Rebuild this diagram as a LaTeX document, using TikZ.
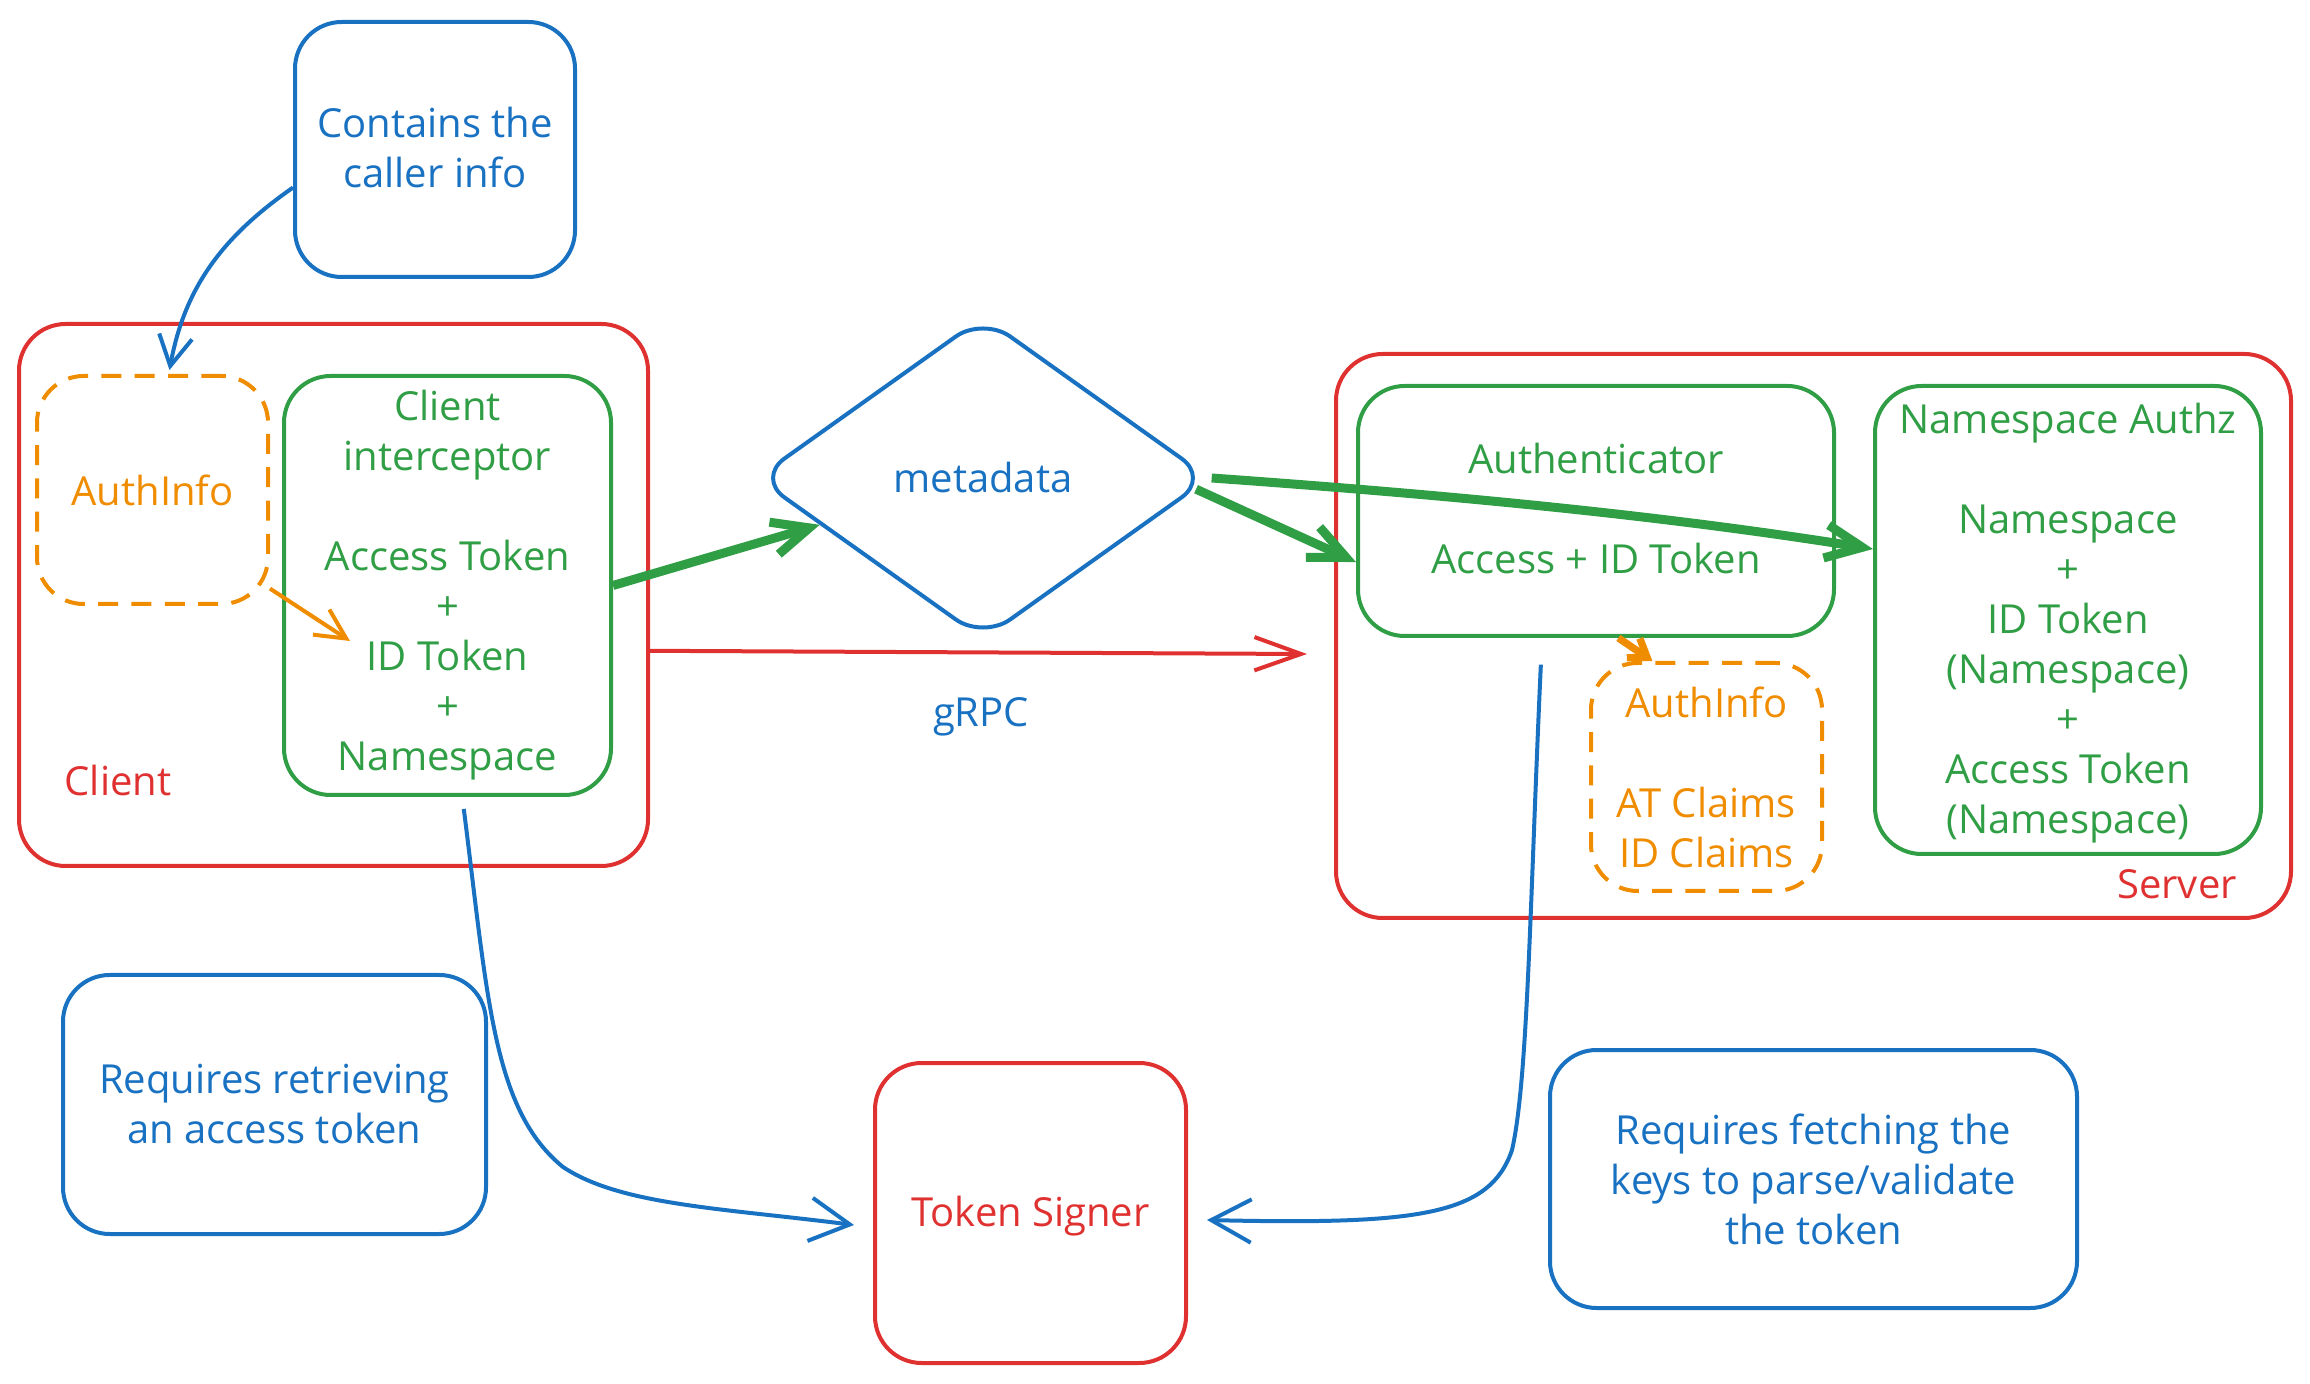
\documentclass[tikz,border=0pt]{standalone}
\usepackage{fontspec}
\setmainfont{Open Sans}
\usetikzlibrary{arrows.meta,fit,shapes.geometric,calc}
\definecolor{exred}{HTML}{E03131}
\definecolor{exgreen}{HTML}{2F9E44}
\definecolor{exblue}{HTML}{1971C2}
\definecolor{exorange}{HTML}{F08C00}
\newcommand\diagfont{\fontsize{12}{15}\selectfont}
\begin{document}
\begin{tikzpicture}[x=0.3pt,y=-0.3pt,
  box/.style={draw, rounded corners=14pt, line width=1.2pt, inner sep=0pt},
  redbox/.style={box, draw=exred},
  greenbox/.style={box, draw=exgreen},
  bluebox/.style={box, draw=exblue},
  dashbox/.style={box, draw=exorange, dash pattern=on 6pt off 4pt},
  lbl/.style={font=\diagfont, inner sep=0pt, align=center},
  thickarrow/.style={draw=exgreen, line width=2.7pt, -{Straight Barb[length=11pt,width=10pt]}},
  bluearrow/.style={draw=exblue, line width=1.2pt, -{Straight Barb[length=12pt,width=13pt]}},
]
\useasboundingbox (0,0) rectangle (2310,1384);

% boxes
\node[bluebox, fit={(295,22) (575,277)}] (note1) {};
\node[lbl, text=exblue] (note1t) at ($(note1.center)+(0,-2)$) {Contains the\\caller info};
\node[redbox, fit={(19,324) (648,866)}] (client) {};
\node[lbl, text=exred] (clientlbl) at (118,781) {Client};
\node[dashbox, fit={(37,376) (268,604)}] (cauth) {};
\node[lbl, text=exorange] (cautht) at (cauth.center) {AuthInfo};
\node[greenbox, fit={(284,376) (611,795)}] (intc) {};
\node[lbl, text=exgreen] (intct) at (intc.center) {Client\\interceptor\\[15pt]Access Token\\+\\ID Token\\+\\Namespace};

\node[diamond, draw=exblue, text=exblue, line width=1.2pt, rounded corners=10pt, aspect=1.42,
      minimum width=136pt, minimum height=97pt, inner sep=0pt, font=\diagfont] (meta) at (983,478) {metadata};

\node[redbox, fit={(1336,354) (2291,918)}] (server) {};
\node[lbl, text=exred] (serverlbl) at (2177,884) {Server};
\node[greenbox, fit={(1358,386) (1834,636)}] (authn) {};
\node[lbl, text=exgreen] (authnt) at ($(authn.center)+(0,-2)$) {Authenticator\\[15pt]Access + ID Token};
\node[dashbox, fit={(1591,663) (1822,891)}] (sauth) {};
\node[lbl, text=exorange] (sautht) at (sauth.center) {AuthInfo\\[15pt]AT Claims\\ID Claims};
\node[greenbox, fit={(1875,386) (2261,854)}] (nsauthz) {};
\node[lbl, text=exgreen] (nsauthzt) at ($(nsauthz.center)+(0,3)$) {Namespace Authz\\[15pt]Namespace\\+\\ID Token\\(Namespace)\\+\\Access Token\\(Namespace)};

\node[bluebox, fit={(63,975) (486,1234)}] (note2) {};
\node[lbl, text=exblue] (note2t) at (note2.center) {Requires retrieving\\an access token};
\node[redbox, fit={(875,1063) (1186,1363)}] (signer) {};
\node[lbl, text=exred] (signert) at ($(signer.center)+(0,3)$) {Token Signer};
\node[bluebox, fit={(1550,1050) (2077,1308)}] (note3) {};
\node[lbl, text=exblue] (note3t) at (note3.center) {Requires fetching the\\keys to parse/validate\\the token};

\node[lbl, text=exblue] (grpc) at (981,717) {gRPC};

% connectors
\draw[bluearrow, -{Straight Barb[length=9pt,width=10pt]}]
  (note1.195) .. controls (225,235) and (185,285) .. ($(cauth.north)+(17,-4)$);
\draw[draw=exorange, line width=1.2pt, -{Straight Barb[length=9pt,width=9pt]}]
  (cauth.-40) -- (350,641) coordinate (idt);
\draw[thickarrow] (intc.east) -- (meta.196);
\draw[draw=exred, line width=1.2pt, -{Straight Barb[length=14pt,width=10pt]}]
  (client.-10) -- (1307,654) coordinate (grpcend);
\draw[thickarrow] (meta.-3) -- (authn.192);
\draw[thickarrow] (meta.east) .. controls (1450,495) and (1660,515) .. (nsauthz.160);
\draw[draw=exorange, line width=2.2pt, -{Straight Barb[length=5pt,width=7pt]}]
  (authn.-80) -- (sauth.115);
\draw[bluearrow, shorten <=3.6pt]
  (intc.-86) .. controls (488,1000) and (493,1110) .. (563,1167)
  .. controls (620,1205) and (720,1208) .. ($(signer.west)+(-19,12)$);
\draw[bluearrow, shorten <=8pt]
  (authn.-113) .. controls (1530,900) and (1528,1080) .. (1512,1150)
  .. controls (1490,1215) and (1420,1225) .. ($(signer.east)+(19,7)$);
\end{tikzpicture}
\end{document}
